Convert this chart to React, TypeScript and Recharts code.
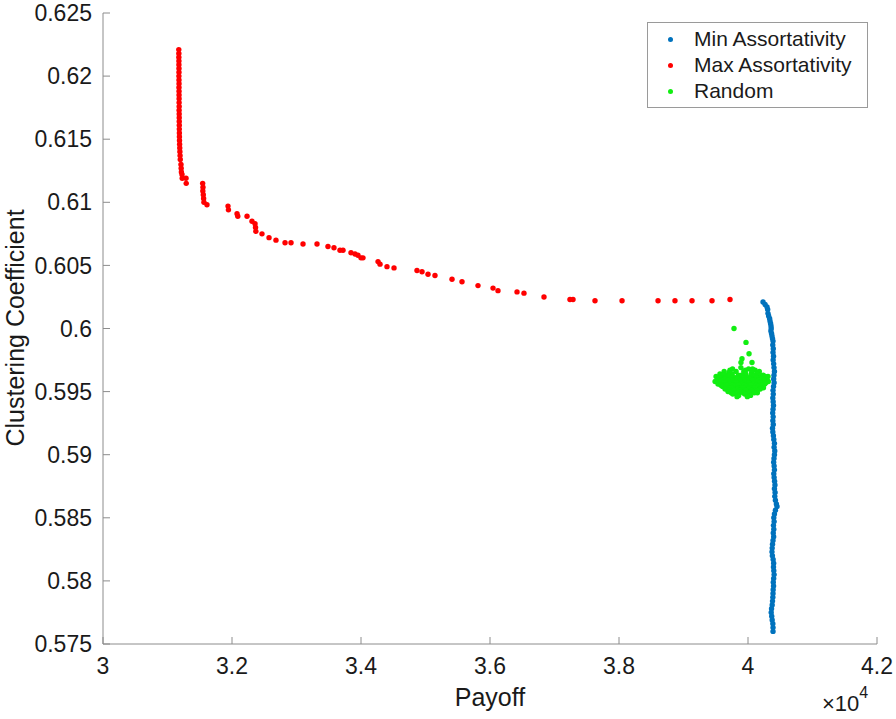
import React from 'react';
import {
  ScatterChart,
  Scatter,
  XAxis,
  YAxis,
  Legend,
} from 'recharts';

// values (payoff in raw units, axis shows x10^4)
const minAssortativity: [number, number][] = [
  [40233, 0.6021], [40265, 0.6019], [40295, 0.6017], [40305, 0.6015], [40310, 0.6012],
  [40320, 0.601], [40335, 0.6008], [40341, 0.6006], [40350, 0.6004], [40357, 0.6002],
  [40360, 0.6], [40355, 0.5998], [40365, 0.5996], [40372, 0.5994], [40380, 0.5992],
  [40388, 0.599], [40384, 0.5987], [40392, 0.5984], [40388, 0.5981], [40396, 0.5978],
  [40390, 0.5975], [40398, 0.5972], [40403, 0.5969], [40410, 0.5966], [40403, 0.5963],
  [40398, 0.596], [40405, 0.5957], [40396, 0.5954], [40388, 0.5951], [40392, 0.5948],
  [40385, 0.5945], [40390, 0.5942], [40395, 0.5939], [40388, 0.5936], [40383, 0.5933],
  [40390, 0.593], [40385, 0.5927], [40392, 0.5924], [40380, 0.5921], [40385, 0.5918],
  [40394, 0.5915], [40400, 0.5912], [40410, 0.5909], [40405, 0.5906], [40415, 0.5903],
  [40410, 0.59], [40403, 0.5897], [40398, 0.5894], [40405, 0.5891], [40410, 0.5888],
  [40400, 0.5885], [40405, 0.5882], [40412, 0.5879], [40418, 0.5876], [40410, 0.5873],
  [40420, 0.587], [40415, 0.5867], [40425, 0.5864], [40440, 0.5861], [40450, 0.5859],
  [40425, 0.5856], [40410, 0.5853], [40400, 0.585], [40405, 0.5847], [40395, 0.5844],
  [40400, 0.5841], [40392, 0.5838], [40398, 0.5835], [40388, 0.5832], [40380, 0.5829],
  [40375, 0.5826], [40372, 0.5823], [40378, 0.582], [40390, 0.5817], [40398, 0.5814],
  [40395, 0.5811], [40400, 0.5808], [40405, 0.5805], [40398, 0.5802], [40392, 0.5799],
  [40396, 0.5796], [40390, 0.5793], [40388, 0.579], [40385, 0.5787], [40380, 0.5784],
  [40375, 0.5781], [40365, 0.5778], [40360, 0.5775], [40368, 0.5772], [40375, 0.5769],
  [40385, 0.5766], [40388, 0.5763], [40388, 0.576],
];

const maxAssortativity: [number, number][] = [
  [31175, 0.6221], [31176, 0.6218], [31176, 0.6215], [31177, 0.6212], [31177, 0.6209],
  [31178, 0.6206], [31178, 0.6203], [31177, 0.62], [31178, 0.6197], [31179, 0.6194],
  [31178, 0.6191], [31179, 0.6188], [31179, 0.6185], [31180, 0.6182], [31180, 0.6179],
  [31181, 0.6176], [31180, 0.6173], [31181, 0.617], [31182, 0.6167], [31182, 0.6164],
  [31183, 0.6161], [31183, 0.6158], [31184, 0.6155], [31185, 0.6152], [31186, 0.6149],
  [31188, 0.6146], [31190, 0.6143], [31192, 0.614], [31195, 0.6137], [31198, 0.6134],
  [31209, 0.613], [31212, 0.6127], [31215, 0.6124], [31225, 0.6122], [31228, 0.6119],
  [31287, 0.6119], [31290, 0.6115],
  [31545, 0.6115], [31550, 0.6112], [31548, 0.6109], [31555, 0.6106], [31560, 0.6103],
  [31565, 0.61], [31612, 0.6098],
  [31938, 0.6097], [31945, 0.6094], [32078, 0.6091], [32090, 0.6089], [32233, 0.6089],
  [32310, 0.6085], [32357, 0.6083], [32365, 0.608], [32370, 0.6077], [32465, 0.6075],
  [32574, 0.6072], [32682, 0.607], [32822, 0.6068], [32915, 0.6068], [33101, 0.6067],
  [33318, 0.6067], [33488, 0.6065], [33581, 0.6064], [33674, 0.6062], [33721, 0.6062],
  [33845, 0.606], [33907, 0.6059], [33953, 0.6058], [34000, 0.6056], [34031, 0.6056],
  [34264, 0.6053], [34295, 0.6051], [34403, 0.6049], [34512, 0.6048], [34868, 0.6046],
  [34946, 0.6045], [35039, 0.6043], [35147, 0.6042], [35411, 0.6039], [35566, 0.6037],
  [35814, 0.6034], [36047, 0.6032], [36124, 0.603], [36419, 0.6029], [36527, 0.6028],
  [36837, 0.6025], [37240, 0.6023], [37287, 0.6023], [37628, 0.6022], [38047, 0.6022],
  [38605, 0.6022], [38868, 0.6022], [39132, 0.6022], [39442, 0.6022], [39721, 0.6023],
];

const randomNetwork: [number, number][] = [
  [39783, 0.6], [39969, 0.5989], [40016, 0.598], [39907, 0.5976], [39891, 0.5973],
  [40062, 0.5973], [40310, 0.5962], [39490, 0.5958],
  [39760, 0.5968], [39890, 0.5969], [40010, 0.5968], [40110, 0.5967],
  [39720, 0.5967], [39960, 0.5967], [40070, 0.5968],
  [39630, 0.5966], [39705, 0.5965], [39815, 0.5966], [39935, 0.5966], [40055, 0.5965], [40175, 0.5966],
  [39565, 0.5964], [39660, 0.5963], [39755, 0.5964], [39850, 0.5963], [39965, 0.5964],
  [40045, 0.5963], [40140, 0.5964], [40235, 0.5963],
  [39610, 0.5963], [39710, 0.5963], [39900, 0.5963], [40095, 0.5963], [40190, 0.5963],
  [39505, 0.5962], [39600, 0.5961], [39700, 0.5962], [39795, 0.5961], [39885, 0.5962],
  [39990, 0.5961], [40085, 0.5962], [40170, 0.5961], [40265, 0.5962],
  [39550, 0.5961], [39650, 0.5961], [39745, 0.5961], [39840, 0.5961], [39940, 0.5961],
  [40040, 0.5961], [40130, 0.5961], [40220, 0.5961],
  [39540, 0.5959], [39640, 0.596], [39745, 0.5959], [39830, 0.596], [39930, 0.5959],
  [40025, 0.596], [40115, 0.5959], [40205, 0.596], [40295, 0.5959],
  [39590, 0.5959], [39690, 0.5959], [39790, 0.5959], [39880, 0.5959], [39980, 0.5959],
  [40070, 0.5959], [40160, 0.5959], [40250, 0.5959],
  [39580, 0.5958], [39675, 0.5957], [39770, 0.5958], [39865, 0.5957], [39955, 0.5958],
  [40050, 0.5957], [40140, 0.5958], [40230, 0.5957], [40315, 0.5958],
  [39625, 0.5957], [39720, 0.5957], [39815, 0.5957], [39910, 0.5957], [40005, 0.5957],
  [40095, 0.5957], [40185, 0.5957], [40275, 0.5957],
  [39535, 0.5956], [39625, 0.5955], [39715, 0.5956], [39805, 0.5955], [39900, 0.5956],
  [39995, 0.5955], [40080, 0.5956], [40170, 0.5955], [40260, 0.5956],
  [39580, 0.5955], [39670, 0.5955], [39760, 0.5955], [39855, 0.5955], [39945, 0.5955],
  [40040, 0.5955], [40125, 0.5955], [40215, 0.5955],
  [39605, 0.5954], [39690, 0.5953], [39785, 0.5954], [39880, 0.5953], [39970, 0.5954],
  [40060, 0.5953], [40150, 0.5954], [40240, 0.5953],
  [39650, 0.5953], [39740, 0.5953], [39835, 0.5953], [39925, 0.5953], [40015, 0.5953],
  [40105, 0.5953], [40195, 0.5953],
  [39645, 0.5952], [39735, 0.5951], [39830, 0.5952], [39920, 0.5951], [40010, 0.5952],
  [40100, 0.5951], [40190, 0.5952],
  [39700, 0.5951], [39785, 0.5951], [39875, 0.5951], [39965, 0.5951], [40055, 0.5951], [40145, 0.5951],
  [39690, 0.595], [39790, 0.5949], [39880, 0.595], [39975, 0.5949], [40060, 0.595], [40145, 0.5949],
  [39740, 0.5949], [39835, 0.5949], [39925, 0.5949], [40020, 0.5949], [40100, 0.5949],
  [39765, 0.5948], [39855, 0.5947], [39950, 0.5948], [40040, 0.5947],
  [39830, 0.5946], [39990, 0.5946],
];

const xTicks = [30000, 32000, 34000, 36000, 38000, 40000, 42000];
const yTicks = [0.575, 0.58, 0.585, 0.59, 0.595, 0.6, 0.605, 0.61, 0.615, 0.62, 0.625];

const SERIES = [
  { name: 'Min Assortativity', color: '#0072BD', data: minAssortativity },
  { name: 'Max Assortativity', color: '#FF0000', data: maxAssortativity },
  { name: 'Random', color: '#11EE11', data: randomNetwork },
];

const FONT = '"Liberation Sans", Arial, Helvetica, sans-serif';
const AXIS = '#8c8c8c';
const TEXT = '#1a1a1a';
const TICK_LEN = 7;
const X_MARGIN = 14;
const Y_MARGIN = 11;

// the figure fills the whole window, so drop the default body margin
if (typeof document !== 'undefined') {
  document.body.style.margin = '0';
}

const toPoints = (arr: [number, number][]) => arr.map(([x, y]) => ({ x, y }));

const Dot = (props: any) => <circle cx={props.cx} cy={props.cy} r={2.7} fill={props.fill} />;

// matlab style ticks: short marks pointing into the plot box
const BottomTick = (props: any) => {
  const { x, y, payload } = props;
  const base = y - X_MARGIN;
  return (
    <g>
      <line x1={x} x2={x} y1={base} y2={base - TICK_LEN} stroke={AXIS} />
      <text x={x} y={y} dy="0.71em" textAnchor="middle" fontSize={23} fill={TEXT} fontFamily={FONT}>
        {String(+(payload.value / 10000).toFixed(1))}
      </text>
    </g>
  );
};

const LeftTick = (props: any) => {
  const { x, y, payload } = props;
  const base = x + Y_MARGIN;
  return (
    <g>
      <line x1={base} x2={base + TICK_LEN} y1={y} y2={y} stroke={AXIS} />
      <text x={x} y={y} dy="0.355em" textAnchor="end" fontSize={23} fill={TEXT} fontFamily={FONT}>
        {String(+payload.value.toFixed(3))}
      </text>
    </g>
  );
};

const TopTick = (props: any) => (
  <line x1={props.x} x2={props.x} y1={props.y} y2={props.y + TICK_LEN} stroke={AXIS} />
);

const RightTick = (props: any) => (
  <line x1={props.x} x2={props.x - TICK_LEN} y1={props.y} y2={props.y} stroke={AXIS} />
);

const YTitle = () => (
  <text
    x={24}
    y={328}
    transform="rotate(-90 24 328)"
    textAnchor="middle"
    fontSize={25}
    fill={TEXT}
    fontFamily={FONT}
  >
    Clustering Coefficient
  </text>
);

const XTitle = () => (
  <g fontFamily={FONT} fill={TEXT}>
    <text x={490} y={706} textAnchor="middle" fontSize={25}>
      Payoff
    </text>
    <text x={822} y={711} fontSize={22}>
      ×10<tspan dy={-13} fontSize={16}>4</tspan>
    </text>
  </g>
);

const LegendBox = () => (
  <div
    style={{
      width: 221,
      height: 86,
      boxSizing: 'border-box',
      border: '1px solid #9a9a9a',
      background: '#fff',
      paddingTop: 3,
      fontFamily: FONT,
    }}
  >
    {SERIES.map((s) => (
      <div key={s.name} style={{ display: 'flex', alignItems: 'center', height: 26 }}>
        <span
          style={{
            display: 'inline-block',
            width: 5,
            height: 5,
            borderRadius: '50%',
            background: s.color,
            marginLeft: 20,
            marginRight: 21,
          }}
        />
        <span style={{ fontSize: 21, color: TEXT }}>{s.name}</span>
      </div>
    ))}
  </div>
);

export default function App() {
  return (
    <div style={{ width: 896, height: 719, fontFamily: FONT }}>
      <ScatterChart
        width={896}
        height={719}
        margin={{ top: 13, right: 19, bottom: 0, left: 0 }}
      >
        <XAxis
          type="number"
          dataKey="x"
          domain={[30000, 42000]}
          ticks={xTicks}
          interval={0}
          height={75}
          tickSize={0}
          tickLine={false}
          tickMargin={X_MARGIN}
          tick={<BottomTick />}
          stroke={AXIS}
          label={<XTitle />}
        />
        <XAxis
          xAxisId="top"
          orientation="top"
          type="number"
          domain={[30000, 42000]}
          ticks={xTicks}
          interval={0}
          height={0}
          tickSize={0}
          tickLine={false}
          tickMargin={0}
          tick={<TopTick />}
          stroke={AXIS}
        />
        <YAxis
          type="number"
          dataKey="y"
          domain={[0.575, 0.625]}
          ticks={yTicks}
          interval={0}
          width={103}
          tickSize={0}
          tickLine={false}
          tickMargin={Y_MARGIN}
          tick={<LeftTick />}
          stroke={AXIS}
          label={<YTitle />}
        />
        <YAxis
          yAxisId="right"
          orientation="right"
          type="number"
          domain={[0.575, 0.625]}
          ticks={yTicks}
          interval={0}
          width={0}
          tickSize={0}
          tickLine={false}
          tickMargin={0}
          tick={<RightTick />}
          stroke={AXIS}
        />
        <Legend
          layout="vertical"
          align="center"
          verticalAlign="middle"
          content={<LegendBox />}
          wrapperStyle={{ left: 647, top: 22, width: 221, height: 86 }}
        />
        {SERIES.map((s) => (
          <Scatter
            key={s.name}
            name={s.name}
            data={toPoints(s.data)}
            fill={s.color}
            shape={<Dot />}
            isAnimationActive={false}
          />
        ))}
      </ScatterChart>
    </div>
  );
}
